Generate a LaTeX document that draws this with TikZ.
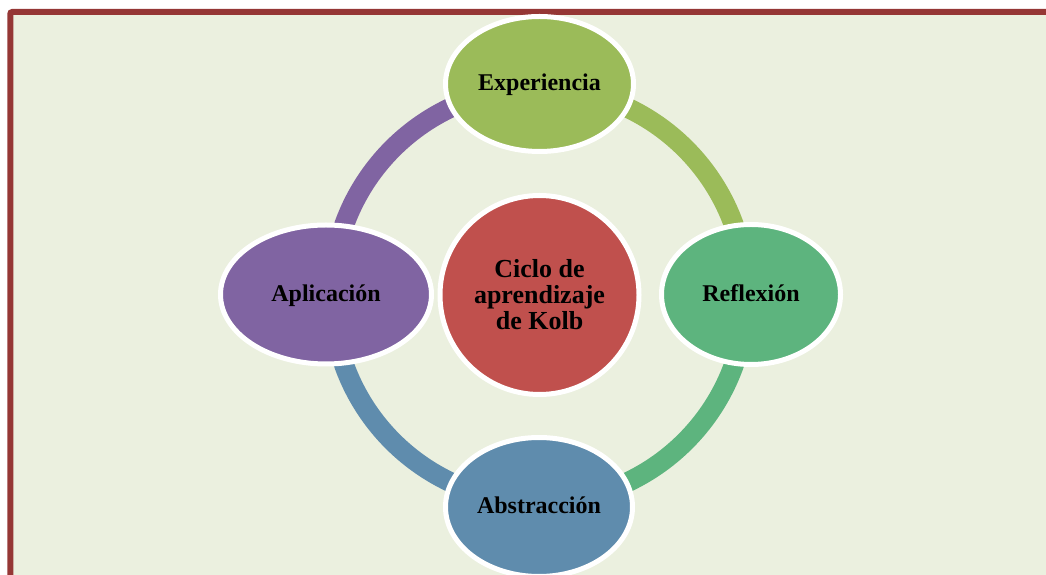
\documentclass[tikz,border=0pt]{standalone}
\usepackage{fontspec}
\setmainfont{Liberation Serif}
\usetikzlibrary{shapes.geometric}
\definecolor{framered}{HTML}{953735}
\definecolor{bgcol}{HTML}{EBF0DF}
\definecolor{expcol}{HTML}{9BBB59}
\definecolor{refcol}{HTML}{5DB47E}
\definecolor{abscol}{HTML}{5F8CAD}
\definecolor{aplcol}{HTML}{8064A2}
\definecolor{kolbcol}{HTML}{C0504D}
\tikzset{
  phase/.style={ellipse, draw=white, line width=5pt, inner sep=0pt,
    text height=17pt, text depth=3pt,
    font=\fontsize{24}{24}\selectfont\bfseries, text=black},
  hub/.style={circle, draw=white, line width=5pt, inner sep=0pt,
    minimum size=199pt, align=center,
    font=\fontsize{26}{26}\selectfont\bfseries, text=black},
  ringarc/.style={line width=20pt}
}
\begin{document}
\begin{tikzpicture}[x=1pt,y=1pt]
\useasboundingbox (0,0) rectangle (1046,575);
\clip (0,0) rectangle (1046,575);
% frame and background
\draw[framered, line width=6pt, fill=bgcol, rounded corners=2pt]
  (10.3,563) rectangle (1070,-20);
% ring centre
\coordinate (ring) at (539,280);
% ring arcs
\draw[ringarc, expcol] (ring) ++(90:207) arc[start angle=90, end angle=0, radius=207];
\draw[ringarc, refcol] (ring) ++(0:207) arc[start angle=0, end angle=-90, radius=207];
\draw[ringarc, abscol] (ring) ++(-90:207) arc[start angle=-90, end angle=-180, radius=207];
\draw[ringarc, aplcol] (ring) ++(180:207) arc[start angle=180, end angle=90, radius=207];
% nodes
\node[hub, fill=kolbcol] (kolb) at (539.5,280) {Ciclo de\\aprendizaje\\de Kolb};
\node[phase, fill=expcol, minimum width=188pt, minimum height=135pt] (exp) at (539.5,491) {Experiencia};
\node[phase, fill=refcol, minimum width=179pt, minimum height=140pt] (ref) at (751,280.5) {Reflexión};
\node[phase, fill=abscol, minimum width=187pt, minimum height=139pt] (abs) at (539,68) {Abstracción};
\node[phase, fill=aplcol, minimum width=211pt, minimum height=139pt] (apl) at (326,280.5) {Aplicación};
\end{tikzpicture}
\end{document}
